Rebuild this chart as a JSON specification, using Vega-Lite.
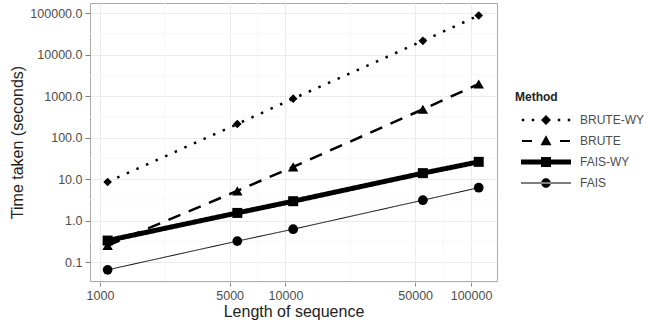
{
  "$schema": "https://vega.github.io/schema/vega-lite/v6.json",
  "autosize": "none",
  "width": 407,
  "height": 278,
  "padding": {"left": 90, "top": 3, "right": 153, "bottom": 40},
  "background": "white",
  "config": {
    "view": {"stroke": "#aaaaaa", "strokeWidth": 1},
    "font": "Liberation Sans",
    "axis": {
      "domain": false,
      "grid": true,
      "gridColor": "#ebebeb",
      "gridWidth": 1,
      "ticks": true,
      "tickColor": "#7f7f7f",
      "tickSize": 5,
      "labelPadding": 3,
      "labelColor": "#4d4d4d",
      "labelFont": "Liberation Sans",
      "labelFontSize": 12.5,
      "titleFont": "Liberation Sans",
      "titleFontSize": 16,
      "titleFontWeight": "normal",
      "titleColor": "#222222"
    }
  },
  "datasets": {
    "runs": [
      {"Method": "BRUTE-WY", "length": 1100, "time": 8.5},
      {"Method": "BRUTE-WY", "length": 5500, "time": 212},
      {"Method": "BRUTE-WY", "length": 11000, "time": 865},
      {"Method": "BRUTE-WY", "length": 55000, "time": 21400},
      {"Method": "BRUTE-WY", "length": 110000, "time": 87500},
      {"Method": "BRUTE", "length": 1100, "time": 0.25},
      {"Method": "BRUTE", "length": 5500, "time": 5.2},
      {"Method": "BRUTE", "length": 11000, "time": 19.7},
      {"Method": "BRUTE", "length": 55000, "time": 480},
      {"Method": "BRUTE", "length": 110000, "time": 1960},
      {"Method": "FAIS-WY", "length": 1100, "time": 0.33},
      {"Method": "FAIS-WY", "length": 5500, "time": 1.53},
      {"Method": "FAIS-WY", "length": 11000, "time": 2.93},
      {"Method": "FAIS-WY", "length": 55000, "time": 13.9},
      {"Method": "FAIS-WY", "length": 110000, "time": 26},
      {"Method": "FAIS", "length": 1100, "time": 0.065},
      {"Method": "FAIS", "length": 5500, "time": 0.32},
      {"Method": "FAIS", "length": 11000, "time": 0.62},
      {"Method": "FAIS", "length": 55000, "time": 3.1},
      {"Method": "FAIS", "length": 110000, "time": 6.2}
    ],
    "minorX": [{"length": 2236}, {"length": 7071}, {"length": 22361}, {"length": 70711}],
    "minorY": [{"time": 0.0316}, {"time": 0.316}, {"time": 3.16}, {"time": 31.6}, {"time": 316}, {"time": 3162}, {"time": 31623}]
  },
  "layer": [
    {
      "data": {"name": "minorX"},
      "mark": {"type": "rule", "color": "#f7f7f7", "strokeWidth": 1},
      "encoding": {
        "x": {
          "field": "length", "type": "quantitative",
          "scale": {"type": "log", "domain": [884, 138000], "nice": false},
          "axis": {"values": [1000, 5000, 10000, 50000, 100000], "format": "d", "title": "Length of sequence", "titlePadding": 2}
        }
      }
    },
    {
      "data": {"name": "minorY"},
      "mark": {"type": "rule", "color": "#f7f7f7", "strokeWidth": 1},
      "encoding": {
        "y": {
          "field": "time", "type": "quantitative",
          "scale": {"type": "log", "domain": [0.035, 175000], "nice": false},
          "axis": {"values": [0.1, 1, 10, 100, 1000, 10000, 100000], "format": ".1f", "title": "Time taken (seconds)", "titlePadding": 4}
        }
      }
    },
    {
      "data": {"name": "runs"},
      "mark": {"type": "line", "color": "black", "strokeCap": "butt"},
      "encoding": {
        "x": {
          "field": "length", "type": "quantitative",
          "scale": {"type": "log", "domain": [884, 138000], "nice": false},
          "axis": {"values": [1000, 5000, 10000, 50000, 100000], "format": "d", "title": "Length of sequence", "titlePadding": 2}
        },
        "y": {
          "field": "time", "type": "quantitative",
          "scale": {"type": "log", "domain": [0.035, 175000], "nice": false},
          "axis": {"values": [0.1, 1, 10, 100, 1000, 10000, 100000], "format": ".1f", "title": "Time taken (seconds)", "titlePadding": 4}
        },
        "detail": {"field": "Method"},
        "strokeDash": {
          "field": "Method", "type": "nominal",
          "scale": {"domain": ["BRUTE-WY", "BRUTE", "FAIS-WY", "FAIS"], "range": [[2.5, 8], [13, 9], [1, 0], [1, 0]]},
          "legend": {
            "title": "Method",
            "orient": "none",
            "legendX": 425,
            "legendY": 89,
            "padding": 0,
            "titleFont": "Liberation Sans",
            "titleFontSize": 12,
            "titleFontWeight": "bold",
            "titleColor": "#222222",
            "titlePadding": 10,
            "labelFont": "Liberation Sans",
            "labelFontSize": 12,
            "labelColor": "#4d4d4d",
            "symbolSize": 100,
            "symbolOffset": 25,
            "labelOffset": 28,
            "rowPadding": 9,
            "encoding": {
              "symbols": {
                "shape": {"value": {"signal": "datum.value === 'BRUTE-WY' ? 'M-4.85,-0.25L-4.35,-0.25L-4.35,0.25L-4.85,0.25ZM-2.85,-0.25L-2.35,-0.25L-2.35,0.25L-2.85,0.25ZM2.35,-0.25L2.85,-0.25L2.85,0.25L2.35,0.25ZM4.35,-0.25L4.85,-0.25L4.85,0.25L4.35,0.25ZM0,-1L1,0L0,1L-1,0Z' : datum.value === 'BRUTE' ? 'M-4.8,-0.22L-2.8,-0.22L-2.8,0.22L-4.8,0.22ZM2.8,-0.22L4.8,-0.22L4.8,0.22L2.8,0.22ZM0,-1.15L1.1,0.85L-1.1,0.85Z' : datum.value === 'FAIS-WY' ? 'M-5,-0.5L5,-0.5L5,0.5L-5,0.5ZM-1,-1L1,-1L1,1L-1,1Z' : 'M-5,-0.12L5,-0.12L5,0.12L-5,0.12ZM-0.95,0A0.95,0.95 0 1,0 0.95,0A0.95,0.95 0 1,0 -0.95,0Z'"}},
                "size": {"value": 100},
                "fill": {"value": "black"},
                "stroke": {"value": "black"},
                "strokeWidth": {"value": 0},
                "opacity": {"value": 1}
              }
            }
          }
        },
        "strokeWidth": {
          "field": "Method", "type": "nominal",
          "scale": {"type": "ordinal", "domain": ["FAIS", "FAIS-WY", "BRUTE", "BRUTE-WY"], "range": [1, 5, 2.5, 2.5]},
          "legend": null
        }
      }
    },
    {
      "data": {"name": "runs"},
      "mark": {"type": "point", "filled": true, "color": "black", "opacity": 1},
      "encoding": {
        "x": {"field": "length", "type": "quantitative"},
        "y": {"field": "time", "type": "quantitative"},
        "shape": {
          "field": "Method", "type": "nominal",
          "scale": {"domain": ["FAIS", "FAIS-WY", "BRUTE", "BRUTE-WY"], "range": ["circle", "square", "triangle-up", "diamond"]},
          "legend": null
        },
        "size": {
          "field": "Method", "type": "nominal",
          "scale": {"type": "ordinal", "domain": ["FAIS", "FAIS-WY", "BRUTE", "BRUTE-WY"], "range": [95, 100, 110, 75]},
          "legend": null
        }
      }
    }
  ]
}
